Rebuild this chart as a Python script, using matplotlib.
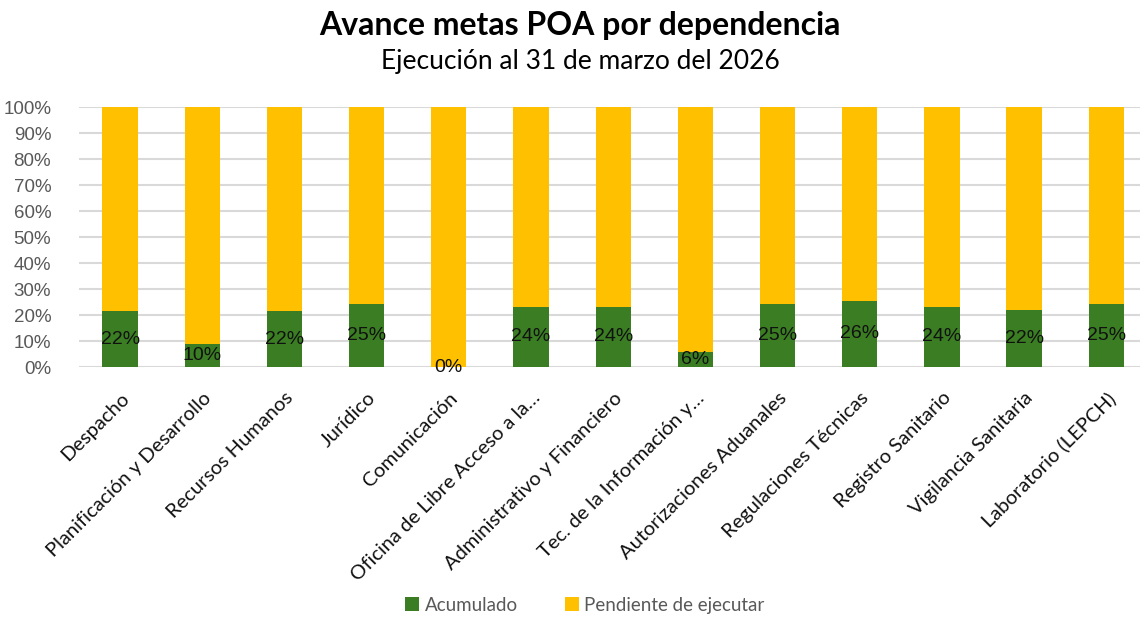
import matplotlib
matplotlib.use('Agg')
import matplotlib.pyplot as plt
from matplotlib.ticker import PercentFormatter
import numpy as np

# data
dependencias = ['Despacho', 'Planificación y Desarrollo', 'Recursos Humanos', 'Jurídico',
                'Comunicación', 'Oficina de Libre Acceso a la…', 'Administrativo y Financiero',
                'Tec. de la Información y…', 'Autorizaciones Aduanales', 'Regulaciones Técnicas',
                'Registro Sanitario', 'Vigilancia Sanitaria', 'Laboratorio (LEPCH)']
acumulado = [21.5, 8.8, 21.5, 24.1, 0.0, 23.2, 23.2, 5.6, 24.1, 25.4, 23.2, 21.8, 24.1]
pendiente = [78.5, 91.2, 78.5, 75.9, 100.0, 76.8, 76.8, 94.4, 75.9, 74.6, 76.8, 78.2, 75.9]
etiquetas = ['22%', '10%', '22%', '25%', '0%', '24%', '24%', '6%', '25%', '26%', '24%', '22%', '25%']

verde = '#3A7D22'
amarillo = '#FFC000'

fig = plt.figure(figsize=(11.4, 6.18), dpi=100)
ax = fig.add_axes([79/1140, (618-367)/618, (1140-79)/1140, 260/618])

x = np.arange(len(dependencias))
ax.bar(x, acumulado, width=0.43, color=verde, label='Acumulado', zorder=3)
ax.bar(x, pendiente, width=0.43, bottom=acumulado, color=amarillo,
       label='Pendiente de ejecutar', zorder=3)

for i in range(len(x)):
    ax.text(x[i], acumulado[i] / 2, etiquetas[i], ha='center', va='center',
            fontsize=14, family='Liberation Sans', color='#111111', zorder=4)

ax.set_ylim(0, 100)
ax.set_xlim(-0.5, 12.41)
ax.set_yticks(np.arange(0, 101, 10))
ax.yaxis.set_major_formatter(PercentFormatter(decimals=0))
ax.grid(axis='y', color='#D9D9D9', linewidth=1.5, zorder=0)
ax.set_axisbelow(True)
for s in ax.spines.values():
    s.set_visible(False)
ax.tick_params(axis='y', length=0, labelsize=13.5, labelcolor='#595959', pad=20)
for lab in ax.get_yticklabels():
    lab.set_family('Liberation Sans')

ax.set_xticks(x)
ax.set_xticklabels(dependencias, rotation=45, ha='right', rotation_mode='anchor',
                   fontsize=14.5, family='Lato', color='#111111')
ax.tick_params(axis='x', length=0, pad=16)

fig.text(0.509, 0.958, 'Avance metas POA por dependencia', ha='center', va='center',
         fontsize=23, fontweight='bold', family='Lato')
fig.text(0.509, 0.900, 'Ejecución al 31 de marzo del 2026', ha='center', va='center',
         fontsize=19, family='Lato')

leg = fig.legend(loc='center', bbox_to_anchor=(0.513, 0.021), ncol=2, frameon=False,
                 handlelength=0.75, handleheight=0.75, handletextpad=0.3, columnspacing=2.5,
                 prop={'family': 'Lato', 'size': 13.5})
for t in leg.get_texts():
    t.set_color('#595959')

fig.savefig('out.png', dpi=100)
